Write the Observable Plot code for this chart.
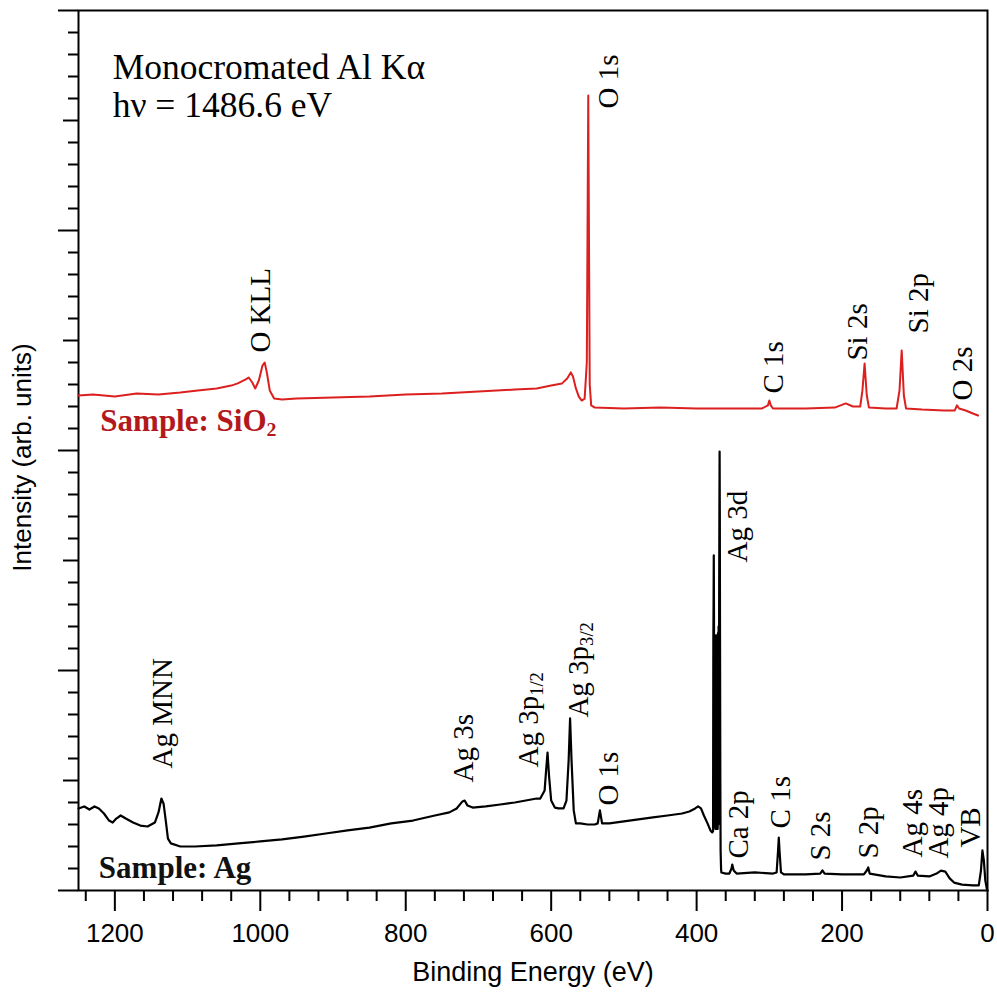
<!DOCTYPE html>
<html>
<head>
<meta charset="utf-8">
<script src="https://cdn.jsdelivr.net/npm/d3@7"></script>
<script src="https://cdn.jsdelivr.net/npm/@observablehq/plot@0.6"></script>
<style>
  html, body { margin: 0; padding: 0; background: #fff; }
  svg { display: block; }
</style>
</head>
<body>
<div id="chart"></div>
<script>
// ---- Data ----
// SiO2 spectrum (red, offset upwards)
const redEnergy = [1250,1230,1200,1170,1140,1110,1086,1060,1040,1031,1020,1016,1011,1007,1002,997,994,991,987,981,970,950,900,850,800,750,700,650,620,600,585,578,573,570,566,562,558,554,551,549,547,545,540,500,450,400,350,310,302,300,298,295,250,210,195,185,175,172,169,166,163,140,125,121,118,115,112,90,60,45,42,39,30,20,13];
const redIntensity = [2.250,2.255,2.245,2.259,2.255,2.264,2.273,2.282,2.295,2.305,2.323,2.332,2.309,2.282,2.318,2.386,2.400,2.355,2.273,2.236,2.232,2.236,2.241,2.245,2.255,2.259,2.268,2.277,2.282,2.295,2.305,2.327,2.355,2.336,2.282,2.245,2.227,2.236,2.400,3.614,2.300,2.205,2.195,2.191,2.195,2.191,2.191,2.191,2.205,2.227,2.205,2.191,2.191,2.195,2.214,2.200,2.200,2.273,2.395,2.250,2.195,2.191,2.191,2.273,2.455,2.250,2.191,2.186,2.182,2.182,2.205,2.191,2.182,2.168,2.159];

// Ag spectrum (black); the dense Ag 3d region is read as a solid block
const blackEnergy = [1250,1242,1235,1228,1222,1215,1208,1203,1198,1192,1185,1175,1165,1155,1145,1140,1136,1133,1130,1127,1123,1110,1090,1060,1030,1000,970,940,910,880,850,820,790,760,740,730,722,719,715,708,690,670,650,635,620,615,609,607,605,603,600,595,590,583,579,576,574,572,569,566,560,550,540,536,533,530,520,500,480,460,440,420,410,402,398,394,390,385,381,378.5,377.4,377.0,376.7,376.4,376.1,375.8,375.4,375.0,374.6,374.2,373.8,373.4,373.0,372.6,372.2,371.8,371.4,371.0,370.6,370.2,369.8,369.4,369.0,368.7,368.4,368.1,367.8,367.4,367.0,366.4,366.0,360,355,352,351,349,345,320,295,290,288,287,286,284,280,250,230,227,224,200,170,166,164,162,140,120,102,99,96,80,70,64,58,52,46,35,20,12,9,7,5,3,1,0];
const blackIntensity = [0.373,0.382,0.368,0.382,0.373,0.350,0.318,0.309,0.327,0.341,0.327,0.309,0.295,0.291,0.309,0.355,0.418,0.395,0.318,0.236,0.214,0.200,0.200,0.205,0.214,0.223,0.232,0.245,0.259,0.273,0.286,0.305,0.318,0.341,0.355,0.373,0.405,0.409,0.386,0.377,0.382,0.391,0.400,0.409,0.418,0.418,0.455,0.545,0.627,0.523,0.409,0.377,0.373,0.373,0.409,0.591,0.782,0.591,0.364,0.305,0.305,0.300,0.300,0.305,0.364,0.305,0.305,0.314,0.323,0.332,0.341,0.350,0.359,0.373,0.382,0.373,0.341,0.305,0.273,0.264,0.270,1.150,1.300,1.523,1.250,0.300,1.150,0.290,1.160,0.280,1.150,0.280,1.160,0.280,1.150,0.290,1.160,0.280,1.170,0.300,1.200,0.320,1.350,1.700,1.995,1.700,1.150,0.500,0.180,0.100,0.082,0.077,0.077,0.100,0.118,0.091,0.077,0.082,0.077,0.082,0.182,0.241,0.182,0.082,0.073,0.073,0.077,0.091,0.077,0.073,0.073,0.091,0.105,0.077,0.064,0.059,0.068,0.086,0.068,0.064,0.077,0.090,0.086,0.055,0.036,0.027,0.023,0.023,0.091,0.182,0.136,0.045,0.009,0];

// Peak labels (energy, intensity at the start of the vertical text)
const redLabelNames = ["O KLL","O 1s","C 1s","Si 2s","Si 2p","O 2s"];
const redLabelEnergy = [1000, 521, 294, 179, 94, 34];
const redLabelIntensity = [2.445, 3.555, 2.259, 2.409, 2.532, 2.227];

const blackLabelNames = ["Ag MNN","Ag 3s","Ag 3p_1/2","Ag 3p_3/2","O 1s","Ag 3d","Ca 2p","C 1s","S 2s","S 2p","Ag 4s","Ag 4p","VB"];
const blackLabelEnergy = [1134.5, 720.6, 631, 562, 521, 344, 342.4, 284.7, 229.6, 163.6, 103, 67.4, 23.4];
const blackLabelIntensity = [0.555, 0.491, 0.559, 0.786, 0.386, 1.491, 0.145, 0.282, 0.136, 0.145, 0.150, 0.145, 0.195];

// Annotations
const sourceText = ["Monocromated Al K\u03b1\nh\u03bd = 1486.6 eV"];
const sourceEnergy = [1203];
const sourceIntensity = [3.809];
const sampleNames = ["Sample: SiO_2", "Sample: Ag"];
const sampleEnergy = [1220, 1222];
const sampleIntensity = [2.136, 0.100];

// Axis ticks
const xMajorTicks = [1200, 1000, 800, 600, 400, 200, 0];
const xMinorTicks = [1240,1160,1120,1080,1040,960,920,880,840,760,720,680,640,560,520,480,440,360,320,280,240,160,120,80,40];
const yMajorTicks = [0, 1, 2, 3, 4];
const yMidTicks = [0.5, 1.5, 2.5, 3.5];
const yMinorTicks = d3.range(0, 41).map(i => i / 10).filter(v => Math.abs(v * 2 - Math.round(v * 2)) > 1e-6);

const xTitle = "Binding Energy (eV)";
const yTitle = "Intensity (arb. units)";

// ---- Build tables ----
const red = redEnergy.map((e, i) => ({e, v: redIntensity[i]}));
const black = blackEnergy.map((e, i) => ({e, v: blackIntensity[i]}));
const redLabels = redLabelNames.map((t, i) => ({t, e: redLabelEnergy[i], v: redLabelIntensity[i]}));
const blackLabels = blackLabelNames.map((t, i) => ({t, e: blackLabelEnergy[i], v: blackLabelIntensity[i]}));
const source = sourceText.map((t, i) => ({t, e: sourceEnergy[i], v: sourceIntensity[i]}));
const samples = sampleNames.map((t, i) => ({t, e: sampleEnergy[i], v: sampleIntensity[i]}));

const serif = "'Liberation Serif', 'Times New Roman', Times, serif";
const sans = "'Liberation Sans', Arial, Helvetica, sans-serif";
const redColor = "#dc1f1f";

const chart = Plot.plot({
  width: 997,
  height: 995,
  marginLeft: 78,
  marginRight: 10,
  marginTop: 10,
  marginBottom: 105,
  x: {domain: [1250, 0], label: null},
  y: {domain: [0, 4], label: null},
  style: {fontFamily: sans, color: "#000", background: "#fff", overflow: "visible"},
  marks: [
    Plot.axisX({ticks: xMajorTicks, tickSize: 21, tickPadding: 12, tickFormat: d => String(d), fontSize: 26, strokeWidth: 2, label: null}),
    Plot.axisX({ticks: xMinorTicks, tickSize: 11, tickFormat: () => "", strokeWidth: 2, label: null}),
    Plot.axisY({ticks: yMajorTicks, tickSize: 20, tickFormat: () => "", strokeWidth: 2, label: null}),
    Plot.axisY({ticks: yMidTicks, tickSize: 15, tickFormat: () => "", strokeWidth: 2, label: null}),
    Plot.axisY({ticks: yMinorTicks, tickSize: 10, tickFormat: () => "", strokeWidth: 2, label: null}),
    Plot.frame({stroke: "#000", strokeWidth: 2}),
    Plot.line(red, {x: "e", y: "v", stroke: redColor, strokeWidth: 2, strokeLinejoin: "round"}),
    Plot.line(black, {x: "e", y: "v", stroke: "#000", strokeWidth: 2.2, strokeLinejoin: "round"}),
    Plot.text(redLabels, {x: "e", y: "v", text: "t", rotate: -90, textAnchor: "start", fontSize: 29, fontFamily: serif, fill: "#000"}),
    Plot.text(blackLabels, {x: "e", y: "v", text: "t", rotate: -90, textAnchor: "start", fontSize: 29, fontFamily: serif, fill: "#000"}),
    Plot.text(source, {x: "e", y: "v", text: "t", textAnchor: "start", lineAnchor: "top", lineHeight: 1.06, fontSize: 35.5, fontFamily: serif, fill: "#000"}),
    Plot.text(samples, {x: "e", y: "v", text: "t", textAnchor: "start", fontSize: 31, fontWeight: "bold", fontFamily: serif, fill: d => d.t.includes("SiO") ? "#b3191c" : "#111"}),
    Plot.text([xTitle], {text: d => d, frameAnchor: "bottom", dy: 90, fontSize: 27, fontFamily: sans, fill: "#000"}),
    Plot.text([yTitle], {text: d => d, frameAnchor: "left", textAnchor: "middle", rotate: -90, dx: -56, dy: 7, fontSize: 26, fontFamily: sans, fill: "#000"})
  ]
});

// Turn "_" markers into subscripts
d3.select(chart).selectAll("text").each(function() {
  const t = this.textContent;
  if (t.includes("_") && this.querySelectorAll("tspan").length === 0) {
    const [a, b] = t.split("_");
    const sel = d3.select(this);
    sel.text(null);
    sel.append("tspan").text(a);
    sel.append("tspan").attr("dy", "0.28em").attr("font-size", "0.64em").text(b);
  }
});

document.getElementById("chart").appendChild(chart);
</script>
</body>
</html>
